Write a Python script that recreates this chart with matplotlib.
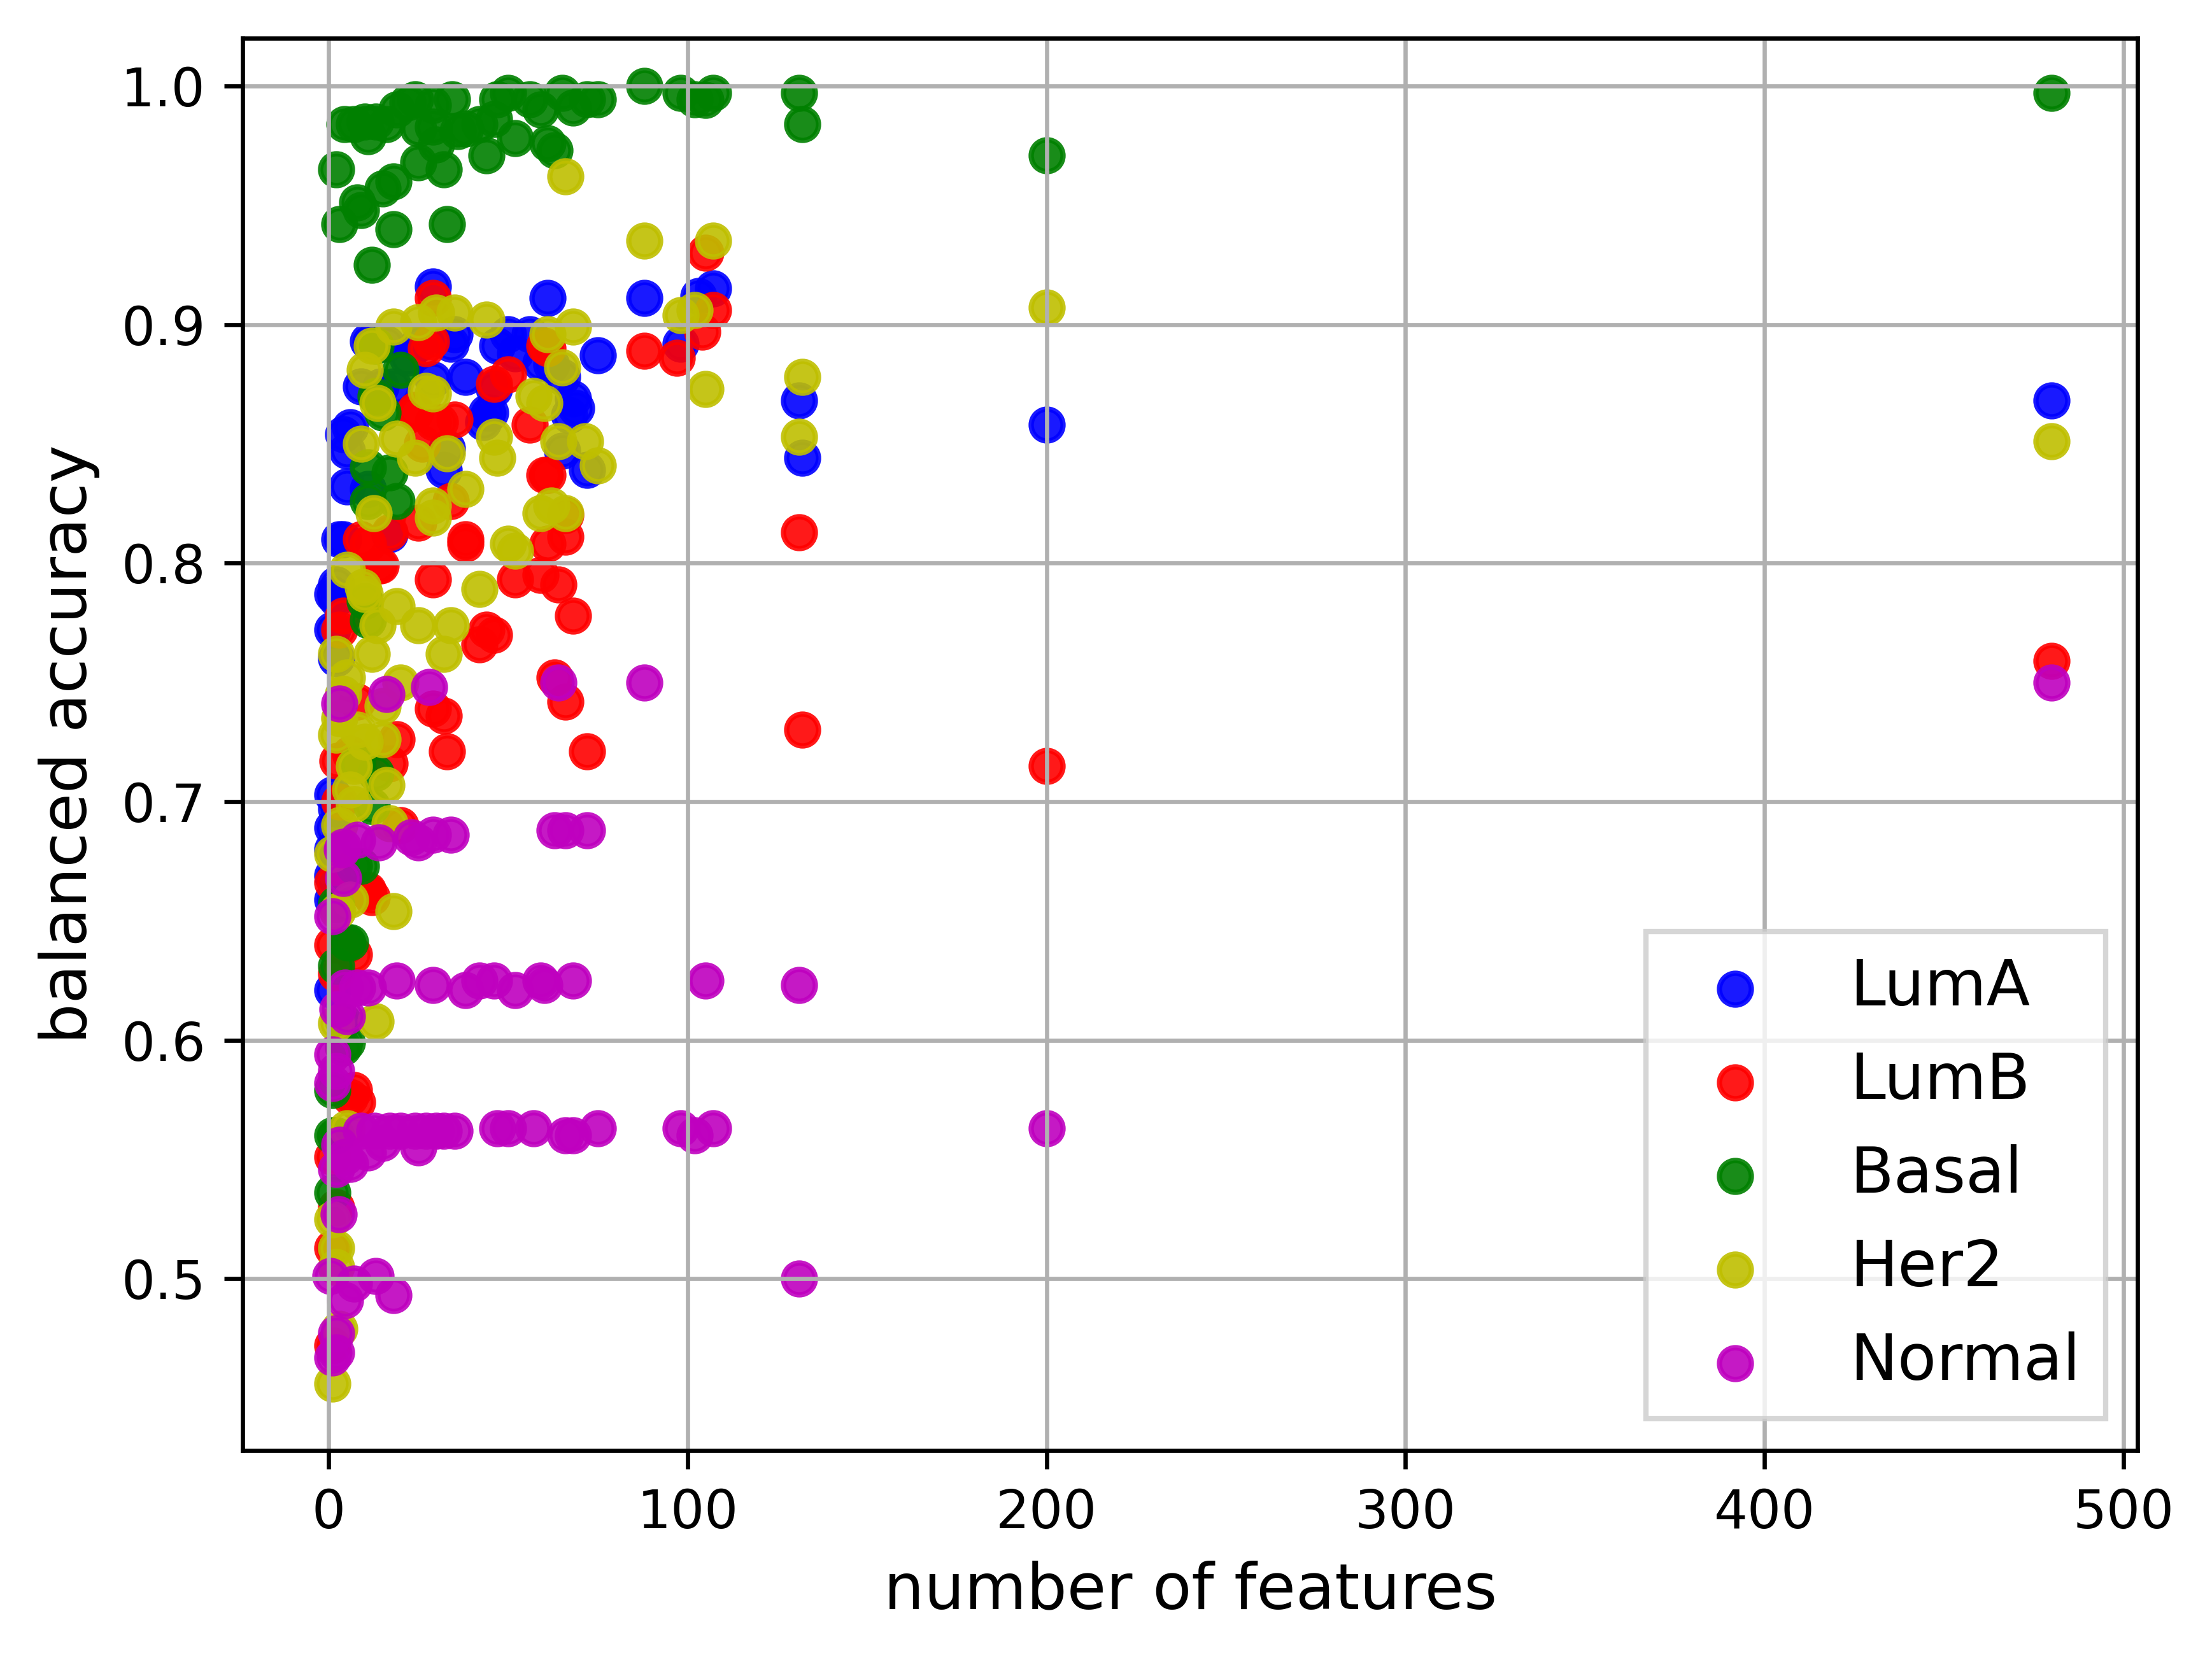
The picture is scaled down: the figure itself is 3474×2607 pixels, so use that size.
import matplotlib
matplotlib.use("Agg")
import matplotlib.pyplot as plt

# (number of features, balanced accuracy)
luma_x = [29, 61, 88, 107, 103, 98, 75, 11, 16, 25, 35, 38, 47, 50, 56, 52, 59, 65, 68, 67,
          72, 9, 14.5, 29, 46, 45, 43, 4, 5, 32, 33, 65, 5, 4, 132, 131, 200, 480, 34, 18,
          44, 11, 17, 2, 1, 2, 1, 1, 1, 1, 1, 3, 2, 1, 1, 6, 22, 62, 69, 2]
luma_y = [0.916, 0.911, 0.911, 0.915, 0.912, 0.892, 0.887, 0.893, 0.892, 0.892, 0.896, 0.878,
          0.891, 0.896, 0.896, 0.888, 0.884, 0.878, 0.869, 0.862, 0.839, 0.874, 0.874, 0.877,
          0.873, 0.863, 0.859, 0.854, 0.847, 0.839, 0.848, 0.847, 0.832, 0.810, 0.844, 0.868,
          0.858, 0.868, 0.892, 0.874, 0.863, 0.831, 0.812, 0.791, 0.787, 0.760, 0.703, 0.689,
          0.680, 0.659, 0.621, 0.810, 0.697, 0.669, 0.772, 0.857, 0.886, 0.883, 0.865, 0.785]

lumb_x = [105, 104, 107, 97, 88, 131, 132, 200, 480, 29, 27, 61, 50, 46, 56, 35, 31, 24, 61,
          66, 34, 38, 25, 38, 29, 52, 59, 64, 68, 44, 46, 42, 63, 66, 29, 32, 33, 72, 61, 66,
          19, 17, 14.5, 11, 5, 2, 28.5, 24, 29, 60, 26, 60, 17, 11, 14, 4, 3, 2.5, 20, 1, 11,
          7, 1, 7, 8, 1, 1, 6, 2, 1, 6, 8, 9, 3, 12]
lumb_y = [0.930, 0.897, 0.906, 0.886, 0.889, 0.813, 0.730, 0.715, 0.759, 0.911, 0.890, 0.890,
          0.879, 0.875, 0.858, 0.860, 0.859, 0.863, 0.837, 0.820, 0.826, 0.810, 0.817, 0.808,
          0.793, 0.793, 0.795, 0.791, 0.778, 0.772, 0.770, 0.766, 0.752, 0.742, 0.739, 0.736,
          0.721, 0.721, 0.808, 0.811, 0.726, 0.716, 0.799, 0.662, 0.640, 0.628, 0.893, 0.864,
          0.859, 0.891, 0.850, 0.837, 0.813, 0.808, 0.799, 0.778, 0.772, 0.717, 0.690, 0.666,
          0.663, 0.636, 0.640, 0.579, 0.574, 0.551, 0.513, 0.576, 0.530, 0.472, 0.720, 0.742,
          0.810, 0.700, 0.660]

basal_x = [4.4, 2, 3, 8, 9, 12, 11, 13, 16, 15, 18, 18, 19, 24, 25, 25, 29, 30, 29, 32, 33,
           34.4, 38, 42, 44, 46, 47, 50, 52, 56, 59, 61, 63, 65, 68, 72, 75, 88, 98, 102, 105,
           107, 131, 132, 200, 480, 7, 20, 13, 13, 15, 11, 17, 11, 19, 10, 11, 8, 13, 12, 9, 7,
           5, 2, 4, 4, 1, 1, 2, 1, 5, 2, 6, 22, 10, 36]
basal_y = [0.984, 0.965, 0.942, 0.951, 0.948, 0.925, 0.979, 0.985, 0.984, 0.957, 0.960, 0.940,
           0.990, 0.9945, 0.982, 0.968, 0.992, 0.9755, 0.983, 0.965, 0.942, 0.9945, 0.982,
           0.984, 0.971, 0.986, 0.9945, 0.997, 0.978, 0.9945, 0.990, 0.976, 0.973, 0.997,
           0.991, 0.9945, 0.9945, 1.0, 0.997, 0.9945, 0.994, 0.997, 0.997, 0.984, 0.971, 0.997,
           0.984, 0.881, 0.891, 0.870, 0.863, 0.840, 0.838, 0.826, 0.826, 0.784, 0.776, 0.716,
           0.712, 0.698, 0.673, 0.673, 0.641, 0.631, 0.608, 0.597, 0.579, 0.560, 0.560, 0.536,
           0.599, 0.657, 0.641, 0.993, 0.985, 0.981]

her2_x = [66, 88, 107, 98, 102, 105, 132, 131, 200, 480, 18, 25, 30, 35, 44, 61, 68, 12, 10,
          29, 65, 57, 60, 13.6, 9, 19, 24, 33, 47, 46, 64, 71.5, 75, 38, 12.5, 29, 29, 59, 62,
          66, 50, 52, 42, 19, 25, 34, 32, 10, 13.6, 2, 12, 20, 5, 15, 2, 15, 10, 7, 16, 7, 17,
          1, 6, 18, 2.5, 13, 2, 5, 1, 2, 2, 3, 1, 27, 5, 9.6, 3, 4, 8, 6, 3]
her2_y = [0.962, 0.935, 0.935, 0.904, 0.906, 0.873, 0.878, 0.853, 0.907, 0.851, 0.899, 0.901,
          0.905, 0.905, 0.902, 0.896, 0.899, 0.891, 0.881, 0.871, 0.882, 0.870, 0.867, 0.867,
          0.850, 0.852, 0.844, 0.846, 0.844, 0.853, 0.851, 0.851, 0.841, 0.831, 0.821, 0.824,
          0.819, 0.821, 0.824, 0.821, 0.808, 0.805, 0.789, 0.782, 0.774, 0.774, 0.762, 0.787,
          0.774, 0.762, 0.762, 0.750, 0.752, 0.740, 0.728, 0.726, 0.725, 0.715, 0.707, 0.699,
          0.691, 0.678, 0.659, 0.654, 0.654, 0.608, 0.607, 0.563, 0.525, 0.513, 0.505, 0.479,
          0.456, 0.872, 0.797, 0.790, 0.735, 0.745, 0.730, 0.705, 0.690]

normal_x = [28, 88, 480, 3, 16, 64, 63, 66, 72, 29, 25, 34, 14, 8, 4, 4, 1, 3.7, 23, 19, 29,
            38, 42, 46, 52, 59, 60, 68, 105, 131, 11, 4.6, 2.5, 8, 47, 50, 57, 66, 68, 75, 98,
            102, 107, 200, 25, 9, 12.7, 17, 20, 24, 27, 30, 32, 35, 11, 6, 2, 4.6, 15, 0.5, 7,
            13, 18, 4.6, 2, 2, 1, 1, 2, 1, 2.8, 131, 5, 3]
normal_y = [0.748, 0.750, 0.750, 0.741, 0.745, 0.750, 0.688, 0.688, 0.688, 0.686, 0.683, 0.686,
            0.683, 0.684, 0.681, 0.668, 0.652, 0.680, 0.685, 0.625, 0.623, 0.621, 0.625, 0.625,
            0.621, 0.625, 0.623, 0.625, 0.625, 0.623, 0.622, 0.622, 0.613, 0.622, 0.563, 0.563,
            0.563, 0.560, 0.560, 0.563, 0.563, 0.560, 0.563, 0.563, 0.555, 0.562, 0.562, 0.562,
            0.562, 0.562, 0.562, 0.562, 0.562, 0.562, 0.553, 0.548, 0.546, 0.551, 0.557, 0.501,
            0.498, 0.501, 0.493, 0.491, 0.477, 0.469, 0.467, 0.594, 0.587, 0.582, 0.527, 0.500,
            0.610, 0.556]

series = [
    ("LumA", luma_x, luma_y, "b"),
    ("LumB", lumb_x, lumb_y, "r"),
    ("Basal", basal_x, basal_y, "g"),
    ("Her2", her2_x, her2_y, "y"),
    ("Normal", normal_x, normal_y, "m"),
]

fig = plt.figure(figsize=(3474 / 600, 2607 / 600), dpi=600)
ax = fig.add_axes([0.1097, 0.1262, 0.8567, 0.8508])

for name, xs, ys, col in series:
    ax.scatter(xs, ys, c=col, alpha=0.9, label=name)

ax.set_xlim(-24, 504)
ax.set_ylim(0.428, 1.020)
ax.set_xlabel("number of features", fontsize=12)
ax.set_ylabel("balanced accuracy", fontsize=12)
ax.grid(True)
ax.legend(loc="lower right", fontsize=12, fancybox=False)

fig.savefig("out.png", dpi=600)
